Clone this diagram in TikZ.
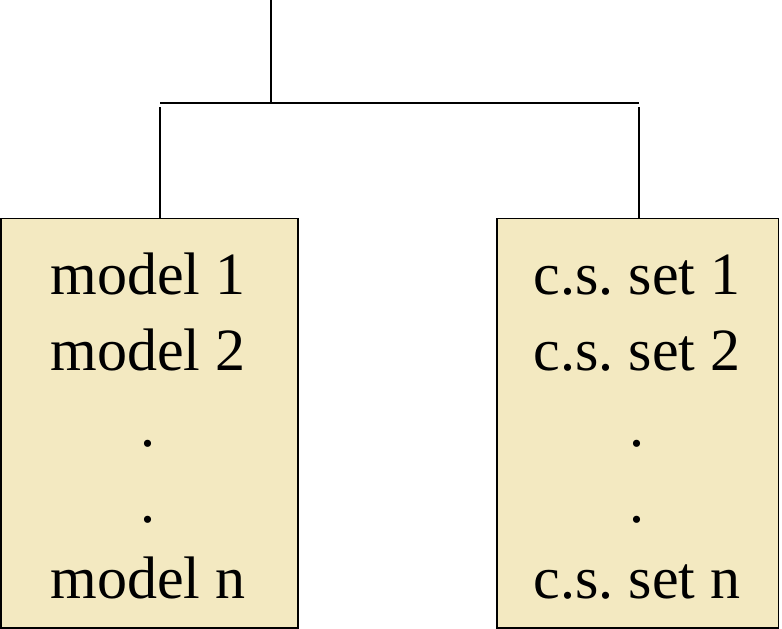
\documentclass[tikz,border=0pt]{standalone}
\usepackage{fontspec}
\setmainfont{Liberation Serif}
\definecolor{boxfill}{HTML}{F3E9C1}
\frenchspacing
\begin{document}
\begin{tikzpicture}[x=1pt,y=-1pt,
  listbox/.style={draw=black,line width=1.5pt,fill=boxfill,rectangle,inner sep=0pt},
  item/.style={anchor=base,font=\fontsize{60}{72}\selectfont,inner sep=0pt},
  wire/.style={line width=2pt,black}]
\useasboundingbox (0,0) rectangle (782,629);
\node[listbox,minimum width=297pt,minimum height=409.5pt] (L) at (149.5,423.25) {};
\node[listbox,minimum width=281.5pt,minimum height=409.5pt] (R) at (637.75,423.25) {};
% left texts
\node[item] (l1) at (148,294) {model 1};
\node[item] (l2) at (148,370) {model 2};
\node[item] (l3) at (148,446) {.};
\node[item] (l4) at (148,522) {.};
\node[item] (l5) at (148,598) {model n};
% right texts
\node[item] (r1) at (637,294) {c.s. set 1};
\node[item] (r2) at (637,370) {c.s. set 2};
\node[item] (r3) at (637,446) {.};
\node[item] (r4) at (637,522) {.};
\node[item] (r5) at (637,598) {c.s. set n};
% connectors
\coordinate (top) at (271,0);
\coordinate (hub) at (271,102.7);
\coordinate (hl) at (160,102.7);
\coordinate (hr) at (639,102.7);
\coordinate (dl) at (160,107);
\coordinate (dr) at (639,107);
\draw[wire] (top) -- (hub);
\draw[wire] (hl) -- (hr);
\draw[wire] (dl) -- (dl |- L.north);
\draw[wire] (dr) -- (dr |- R.north);
\end{tikzpicture}
\end{document}
